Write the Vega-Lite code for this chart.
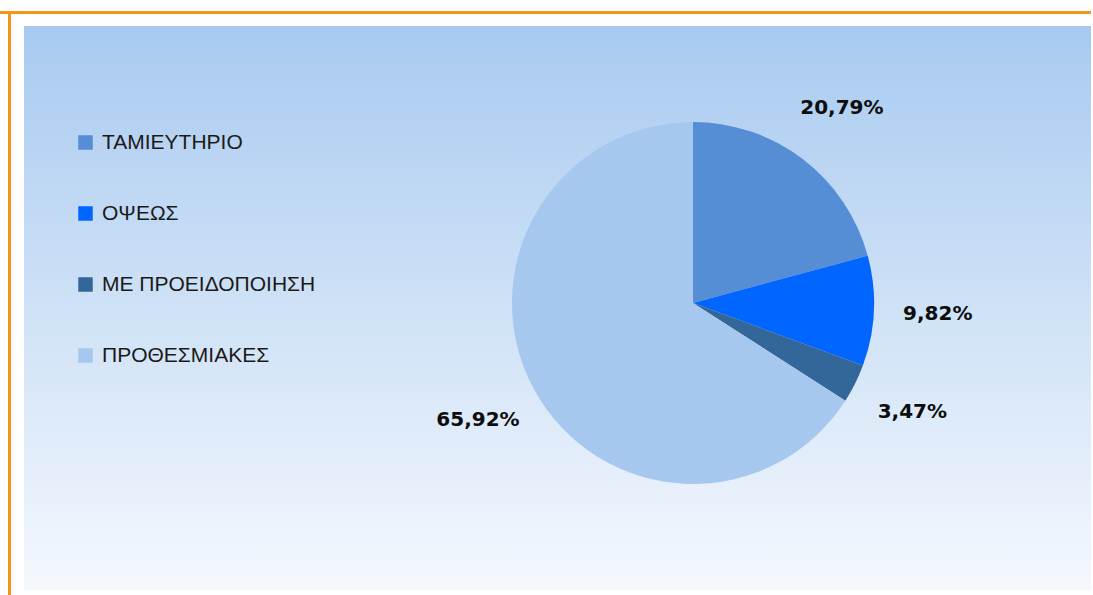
{
  "$schema": "https://vega.github.io/schema/vega-lite/v6.json",
  "background": "white",
  "padding": {"left": 0, "top": 11, "right": 0, "bottom": 0},
  "spacing": 0,
  "bounds": "flush",
  "config": {
    "view": {"stroke": null},
    "concat": {"spacing": 0},
    "locale": {"number": {"decimal": ",", "thousands": ".", "grouping": [3], "currency": ["", " €"]}}
  },
  "resolve": {"scale": {"color": "independent", "theta": "independent"}, "legend": {"color": "independent"}},
  "hconcat": [
    {
      "width": 293,
      "height": 584,
      "layer": [
        {
          "data": {"values": [{}]},
          "mark": {"type": "rect", "fill": {"gradient": "linear", "x1": 0, "y1": 0, "x2": 0, "y2": 1, "stops": [
            {"offset": 0, "color": "#F7941E"},
            {"offset": 0.0051, "color": "#F7941E"},
            {"offset": 0.0052, "color": "#FFFFFF"},
            {"offset": 0.0257, "color": "#FFFFFF"},
            {"offset": 0.0258, "color": "#A8CAF0"},
            {"offset": 0.5, "color": "#CEE1F6"},
            {"offset": 0.9914, "color": "#F4F8FD"},
            {"offset": 0.9915, "color": "#FFFFFF"},
            {"offset": 1, "color": "#FFFFFF"}
          ]}},
          "encoding": {}
        },
        {
          "data": {"values": [{}]},
          "mark": {"type": "rect", "fill": {"gradient": "linear", "x1": 0, "y1": 0, "x2": 1, "y2": 0, "stops": [
            {"offset": 0, "color": "#FFFFFF"},
            {"offset": 0.0256, "color": "#FFFFFF"},
            {"offset": 0.0257, "color": "#F7941E"},
            {"offset": 0.0375, "color": "#F7941E"},
            {"offset": 0.0376, "color": "#FFFFFF"},
            {"offset": 0.0802, "color": "#FFFFFF"},
            {"offset": 0.0803, "color": "rgba(255,255,255,0)"},
            {"offset": 1, "color": "rgba(255,255,255,0)"}
          ]}},
          "encoding": {}
        },
        {
          "data": {"values": [{}]},
          "mark": {"type": "rect", "fill": {"gradient": "linear", "x1": 0, "y1": 0, "x2": 0, "y2": 1, "stops": [
            {"offset": 0, "color": "#F7941E"},
            {"offset": 0.0051, "color": "#F7941E"},
            {"offset": 0.0052, "color": "rgba(255,255,255,0)"},
            {"offset": 1, "color": "rgba(255,255,255,0)"}
          ]}},
          "encoding": {}
        }
      ]
    },
    {
      "width": 800,
      "height": 584,
      "layer": [
        {
          "data": {"values": [{}]},
          "mark": {"type": "rect", "fill": {"gradient": "linear", "x1": 0, "y1": 0, "x2": 0, "y2": 1, "stops": [
            {"offset": 0, "color": "#F7941E"},
            {"offset": 0.0051, "color": "#F7941E"},
            {"offset": 0.0052, "color": "#FFFFFF"},
            {"offset": 0.0257, "color": "#FFFFFF"},
            {"offset": 0.0258, "color": "#A8CAF0"},
            {"offset": 0.5, "color": "#CEE1F6"},
            {"offset": 0.9914, "color": "#F4F8FD"},
            {"offset": 0.9915, "color": "#FFFFFF"},
            {"offset": 1, "color": "#FFFFFF"}
          ]}},
          "encoding": {}
        },
        {
          "data": {"values": [{}]},
          "mark": {"type": "rect", "fill": {"gradient": "linear", "x1": 0, "y1": 0, "x2": 1, "y2": 0, "stops": [
            {"offset": 0, "color": "rgba(255,255,255,0)"},
            {"offset": 0.9974, "color": "rgba(255,255,255,0)"},
            {"offset": 0.9975, "color": "#FFFFFF"},
            {"offset": 1, "color": "#FFFFFF"}
          ]}},
          "encoding": {}
        },
        {
          "data": {"values": [
            {"cat": "ΤΑΜΙΕΥΤΗΡΙΟ", "share": 0.2079, "k": 1},
            {"cat": "ΟΨΕΩΣ", "share": 0.0982, "k": 2},
            {"cat": "ΜΕ ΠΡΟΕΙΔΟΠΟΙΗΣΗ", "share": 0.0347, "k": 3},
            {"cat": "ΠΡΟΘΕΣΜΙΑΚΕΣ", "share": 0.6592, "k": 4}
          ]},
          "mark": {"type": "arc", "radius": 181, "stroke": null},
          "encoding": {
            "theta": {"field": "share", "type": "quantitative", "stack": true},
            "order": {"field": "k", "type": "quantitative"},
            "color": {
              "field": "cat",
              "type": "nominal",
              "scale": {
                "domain": ["ΤΑΜΙΕΥΤΗΡΙΟ", "ΟΨΕΩΣ", "ΜΕ ΠΡΟΕΙΔΟΠΟΙΗΣΗ", "ΠΡΟΘΕΣΜΙΑΚΕΣ"],
                "range": ["#558ED5", "#0066FF", "#336699", "#A7C8EE"]
              },
              "legend": {
                "title": null,
                "orient": "none",
                "legendX": -218,
                "legendY": 121,
                "padding": 0,
                "symbolType": "square",
                "symbolSize": 210,
                "symbolStrokeWidth": 0,
                "symbolOpacity": 1,
                "labelFont": "Liberation Sans",
                "labelFontSize": 21,
                "labelColor": "#1A1A1A",
                "labelOffset": 6,
                "rowPadding": 49,
                "labelLimit": 400
              }
            }
          }
        },
        {
          "data": {"values": [
            {"cat": "ΤΑΜΙΕΥΤΗΡΙΟ", "share": 0.2079, "k": 1},
            {"cat": "ΟΨΕΩΣ", "share": 0.0982, "k": 2},
            {"cat": "ΜΕ ΠΡΟΕΙΔΟΠΟΙΗΣΗ", "share": 0.0347, "k": 3},
            {"cat": "ΠΡΟΘΕΣΜΙΑΚΕΣ", "share": 0.6592, "k": 4}
          ]},
          "mark": {"type": "text", "radius": 245, "font": "DejaVu Sans", "fontWeight": "bold", "fontSize": 20, "color": "#0D0D0D", "align": "center", "baseline": "middle"},
          "encoding": {
            "theta": {"field": "share", "type": "quantitative", "stack": true},
            "order": {"field": "k", "type": "quantitative"},
            "text": {"field": "share", "type": "quantitative", "format": ".2%"}
          }
        }
      ]
    }
  ]
}
